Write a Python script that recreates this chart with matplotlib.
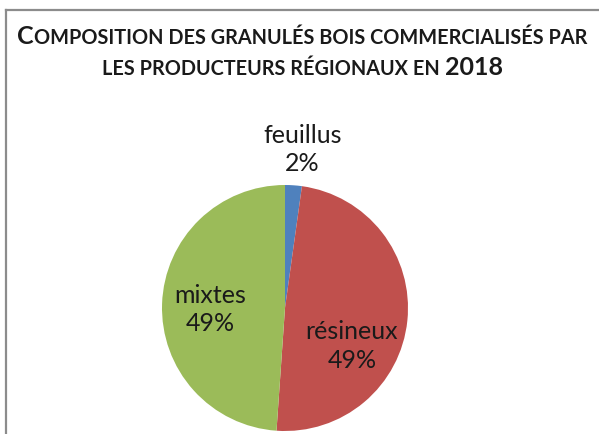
import matplotlib
matplotlib.use("Agg")
import matplotlib.pyplot as plt
from matplotlib.lines import Line2D
from matplotlib.offsetbox import TextArea, HPacker, VPacker, AnnotationBbox

plt.rcParams['font.family'] = ['Lato', 'DejaVu Sans']

# data
categories = ['feuillus', 'résineux', 'mixtes']
shares = [2.2, 48.9, 48.9]
pct_labels = ['2%', '49%', '49%']
colors = ['#4F81BD', '#C0504D', '#9BBB59']

# title pieces: (text, big?) -> fake small caps
title_line1 = [('C', True), ('OMPOSITION DES GRANULÉS BOIS COMMERCIALISÉS PAR', False)]
title_line2 = [('LES PRODUCTEURS RÉGIONAUX EN ', False), ('2018', True)]

W, H = 599, 434
fig = plt.figure(figsize=(W / 100, H / 100), dpi=100)

# chart frame (left + top visible)
fig.add_artist(Line2D([6 / W, 6 / W], [0, 1 - 10 / H], color='#8c8c8c', lw=1.6))
fig.add_artist(Line2D([6 / W, 1], [1 - 10 / H, 1 - 10 / H], color='#8c8c8c', lw=1.6))

# pie axes: center (285, 308) px, radius 123 px
cx, cy, r = 285, 308, 123
ax = fig.add_axes([(cx - r) / W, (H - cy - r) / H, 2 * r / W, 2 * r / H])
wedges, _ = ax.pie(shares, colors=colors, startangle=90, counterclock=False,
                   radius=1, wedgeprops=dict(linewidth=0))
ax.set_xlim(-1, 1)
ax.set_ylim(-1, 1)
ax.set_aspect('equal')
ax.axis('off')

label_pos = [(0.14, 1.29), (0.545, -0.31), (-0.61, -0.01)]
for name, pct, (x, y) in zip(categories, pct_labels, label_pos):
    ax.text(x, y, name + '\n' + pct, ha='center', va='center', fontsize=18,
            linespacing=1.28, color='#1a1a1a', clip_on=False)

big, small = 18, 14.3
def line(parts):
    boxes = [TextArea(t, textprops=dict(fontsize=big if b else small, fontweight='bold',
                                        color='#1a1a1a')) for t, b in parts]
    return HPacker(children=boxes, align='baseline', pad=0, sep=0)

title = VPacker(children=[line(title_line1), line(title_line2)], align='center', pad=0, sep=6)
fig.add_artist(AnnotationBbox(title, (0.505, 1 - 52 / H), xycoords='figure fraction',
                              frameon=False, box_alignment=(0.5, 0.5)))

fig.savefig('out.png', dpi=100)
